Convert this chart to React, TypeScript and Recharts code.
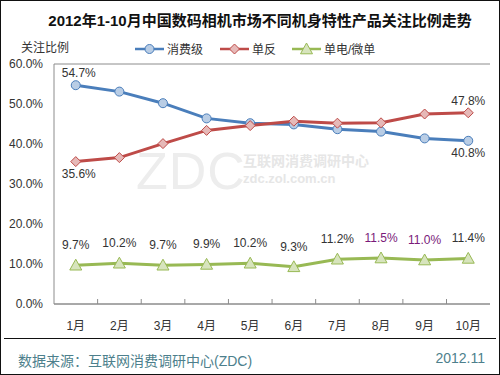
import { CartesianGrid, LabelList, Line, LineChart, XAxis, YAxis } from "recharts";

const months = ["1月", "2月", "3月", "4月", "5月", "6月", "7月", "8月", "9月", "10月"];
const consumer = [54.7, 53.1, 50.2, 46.4, 45.2, 44.9, 43.7, 43.1, 41.4, 40.8];
const dslr = [35.6, 36.6, 40.1, 43.4, 44.6, 45.7, 45.2, 45.3, 47.5, 47.8];
const mirrorless = [9.7, 10.2, 9.7, 9.9, 10.2, 9.3, 11.2, 11.5, 11.0, 11.4];
const yTicks = [0, 10, 20, 30, 40, 50, 60];

const SERIES = [
  { key: "consumer", name: "消费级", stroke: "#4a7ebb", fill: "#b9cde5", shape: "circle" },
  { key: "dslr", name: "单反", stroke: "#be4b48", fill: "#e6b9b8", shape: "diamond" },
  { key: "mirrorless", name: "单电/微单", stroke: "#98b954", fill: "#d7e4bd", shape: "triangle" },
];

const FONT = '"Liberation Sans", "Noto Sans CJK SC", sans-serif';
const GRID = "#8c8c8c";
const PURPLE_LABELS = new Set([7, 8]);

const data = months.map((m, i) => ({
  month: m,
  consumer: consumer[i],
  dslr: dslr[i],
  mirrorless: mirrorless[i],
}));

function Marker({ shape, cx, cy, stroke, fill }: any) {
  if (cx == null || cy == null) return null;
  if (shape === "circle") {
    return <circle cx={cx} cy={cy} r={4.5} fill={fill} stroke={stroke} strokeWidth={1} />;
  }
  if (shape === "diamond") {
    const s = 5;
    return (
      <polygon
        points={`${cx},${cy - s} ${cx + s},${cy} ${cx},${cy + s} ${cx - s},${cy}`}
        fill={fill}
        stroke={stroke}
        strokeWidth={1}
      />
    );
  }
  const s = 6;
  return (
    <polygon
      points={`${cx},${cy - s} ${cx + s},${cy + s * 0.8} ${cx - s},${cy + s * 0.8}`}
      fill={fill}
      stroke={stroke}
      strokeWidth={1}
    />
  );
}

function makeDot(s: (typeof SERIES)[number]) {
  return (props: any) => (
    <Marker key={`${s.key}-${props.index}`} shape={s.shape} cx={props.cx} cy={props.cy} stroke={s.stroke} fill={s.fill} />
  );
}

// end labels for the two upper series: above or below the point
function endLabel(above: [boolean, boolean]) {
  return (props: any) => {
    const { x, y, value, index } = props;
    if (index !== 0 && index !== months.length - 1) return null;
    const up = index === 0 ? above[0] : above[1];
    return (
      <text
        x={x + (index === 0 ? 3 : 0)}
        y={up ? y - 8 : y + 16}
        textAnchor="middle"
        fontSize={12}
        fontFamily={FONT}
        fill="#333"
      >
        {value.toFixed(1)}%
      </text>
    );
  };
}

function greenLabel(props: any) {
  const { x, y, value, index } = props;
  return (
    <text
      x={x}
      y={y - 16}
      textAnchor="middle"
      fontSize={12}
      fontFamily={FONT}
      fill={PURPLE_LABELS.has(index) ? "#7a1a7a" : "#333"}
    >
      {value.toFixed(1)}%
    </text>
  );
}

function MonthTick(props: any) {
  const { x, y, payload, index } = props;
  return (
    <g>
      {index > 0 && <line x1={x - 21.75} x2={x - 21.75} y1={y - 5} y2={y} stroke={GRID} />}
      <text x={x} y={y + 26} textAnchor="middle" fontSize={12} fontFamily={FONT} fill="#333">
        {payload.value}
      </text>
    </g>
  );
}

function LegendItem({ s, left }: { s: (typeof SERIES)[number]; left: number }) {
  return (
    <div style={{ position: "absolute", left, top: 39, display: "flex", alignItems: "center" }}>
      <svg width={30} height={14}>
        <line x1={0} x2={29} y1={7} y2={7} stroke={s.stroke} strokeWidth={2.5} />
        <Marker shape={s.shape} cx={14.5} cy={7} stroke={s.stroke} fill={s.fill} />
      </svg>
      <span style={{ fontSize: 12, color: "#333", marginLeft: 2 }}>{s.name}</span>
    </div>
  );
}

export default function App() {
  return (
    <div
      style={{
        position: "relative",
        width: 500,
        height: 375,
        boxSizing: "border-box",
        border: "1px solid #111",
        background: "#fff",
        fontFamily: FONT,
        overflow: "hidden",
      }}
    >
      <style>{"body{margin:0}"}</style>
      {/* faint watermark behind the plot */}
      <div
        style={{
          position: "absolute",
          left: 135,
          top: 148,
          fontSize: 52,
          lineHeight: "44px",
          color: "#ededed",
          letterSpacing: 1,
          fontWeight: 300,
        }}
      >
        ZDC
      </div>
      <div style={{ position: "absolute", left: 242, top: 152, fontSize: 14, lineHeight: "16px", color: "#e6e6e6", fontWeight: 700 }}>
        互联网消费调研中心
      </div>
      <div style={{ position: "absolute", left: 242, top: 170, fontSize: 13, lineHeight: "15px", color: "#e6e6e6", fontWeight: 700 }}>
        zdc.zol.com.cn
      </div>

      <div
        style={{
          position: "absolute",
          left: 0,
          width: 500,
          top: 8,
          textAlign: "center",
          fontSize: 15,
          fontWeight: 700,
          color: "#111",
          paddingLeft: 18,
          boxSizing: "border-box",
        }}
      >
        2012年1-10月中国数码相机市场不同机身特性产品关注比例走势
      </div>
      <div style={{ position: "absolute", left: 20, top: 37, fontSize: 12, color: "#333" }}>关注比例</div>
      <LegendItem s={SERIES[0]} left={134} />
      <LegendItem s={SERIES[1]} left={219} />
      <LegendItem s={SERIES[2]} left={291} />

      <div style={{ position: "absolute", left: 0, top: 0 }}>
        <LineChart width={498} height={373} data={data} margin={{ top: 63, right: 9, bottom: 40, left: 3 }}>
          <CartesianGrid vertical={false} stroke={GRID} strokeWidth={1} />
          <XAxis
            dataKey="month"
            padding={{ left: 21.75, right: 21.75 }}
            axisLine={{ stroke: GRID }}
            tickLine={false}
            tickSize={0}
            tickMargin={0}
            height={30}
            interval={0}
            tick={<MonthTick />}
          />
          <YAxis
            yAxisId="left"
            domain={[0, 60]}
            ticks={yTicks}
            width={50}
            axisLine={{ stroke: GRID }}
            tickLine={false}
            tickMargin={5}
            tick={{ fontSize: 12, fill: "#333", fontFamily: FONT }}
            tickFormatter={(v: number) => `${v.toFixed(1)}%`}
          />
          <YAxis yAxisId="right" orientation="right" domain={[0, 60]} width={0} tick={false} axisLine={{ stroke: GRID }} />
          <Line
            yAxisId="left"
            dataKey="consumer"
            stroke={SERIES[0].stroke}
            strokeWidth={3}
            dot={makeDot(SERIES[0])}
            isAnimationActive={false}
          >
            <LabelList dataKey="consumer" content={endLabel([true, false])} />
          </Line>
          <Line
            yAxisId="left"
            dataKey="dslr"
            stroke={SERIES[1].stroke}
            strokeWidth={3}
            dot={makeDot(SERIES[1])}
            isAnimationActive={false}
          >
            <LabelList dataKey="dslr" content={endLabel([false, true])} />
          </Line>
          <Line
            yAxisId="left"
            dataKey="mirrorless"
            stroke={SERIES[2].stroke}
            strokeWidth={3}
            dot={makeDot(SERIES[2])}
            isAnimationActive={false}
          >
            <LabelList dataKey="mirrorless" content={greenLabel} />
          </Line>
        </LineChart>
      </div>

      <div style={{ position: "absolute", left: 3, right: 3, top: 337, borderTop: "1.5px solid #111" }} />
      <div style={{ position: "absolute", left: 17, top: 349, fontSize: 14, color: "#4d7f8c" }}>
        数据来源：互联网消费调研中心(ZDC)
      </div>
      <div style={{ position: "absolute", right: 14, top: 349, fontSize: 14, color: "#4d7f8c" }}>2012.11</div>
    </div>
  );
}
